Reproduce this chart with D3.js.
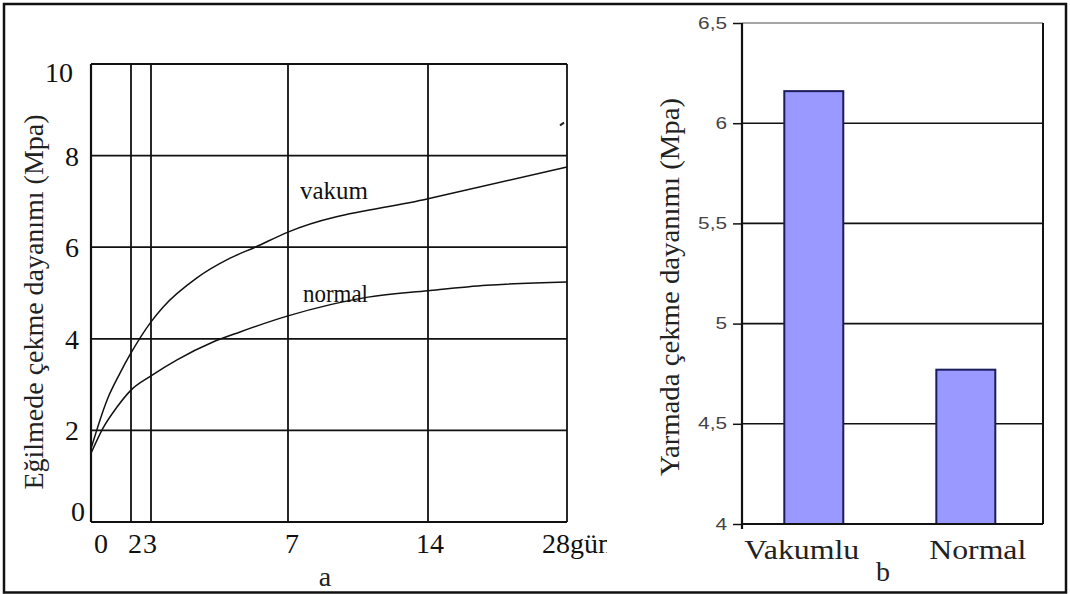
<!DOCTYPE html>
<html>
<head>
<meta charset="utf-8">
<script src="https://cdn.jsdelivr.net/npm/d3@7"></script>
<style>
  body { margin: 0; background: #fff; }
  svg { display: block; }
</style>
</head>
<body>
<div id="chart"></div>
<script>
// panel a: strength vs age (days)
const dayTicks = [0, 2, 3, 7, 14, 28];
const dayTickLabels = ["0", "2", "3", "7", "14", "28gün"];
const leftYTicks = [0, 2, 4, 6, 8, 10];

const vakumDays = [0, 0.8, 1.45, 2, 3, 3.35, 4.34, 5.31, 6.04, 7, 14, 28];
const vakumValues = [1.6, 2.66, 3.25, 3.69, 4.37, 4.69, 5.33, 5.76, 6.0, 6.33, 7.06, 7.75];

const normalDays = [0, 0.6, 1.3, 2, 3, 3.76, 4.81, 5.6, 7, 11, 14, 19.9, 28];
const normalValues = [1.5, 2.05, 2.51, 2.88, 3.19, 3.54, 3.93, 4.15, 4.5, 4.91, 5.05, 5.17, 5.24];

// panel b: split tensile strength
const barCategories = ["Vakumlu", "Normal"];
const barValues = [6.16, 4.77];
const rightYTicks = [4, 4.5, 5, 5.5, 6, 6.5];

const W = 1070, H = 594;
const serif = "'Liberation Serif', 'Times New Roman', serif";
const sans = "'Liberation Sans', Arial, sans-serif";

const svg = d3.select("#chart").append("svg")
    .attr("width", W)
    .attr("height", H);

svg.append("rect").attr("width", W).attr("height", H).attr("fill", "#fff");

// stretch text to a given width (the picture is not evenly scaled)
function fitWidth(sel, len) {
    sel.attr("textLength", len).attr("lengthAdjust", "spacingAndGlyphs");
}

// ---------- left panel ----------
const L = { left: 91, right: 567, top: 64, bottom: 522 };
const pw = L.right - L.left;

svg.append("clipPath").attr("id", "leftClip")
    .append("rect").attr("x", 0).attr("y", 0).attr("width", 607).attr("height", H);

const gl = svg.append("g").attr("clip-path", "url(#leftClip)");

// days are not evenly spaced on the axis, so use a piecewise scale
const x = d3.scaleLinear()
    .domain(dayTicks)
    .range([0, 40, 60, 197, 337, 476].map(d => L.left + d * pw / 476));

const y = d3.scaleLinear().domain([0, 10]).range([L.bottom, L.top]);

// grid
gl.append("g").selectAll("line")
    .data(leftYTicks)
    .join("line")
    .attr("x1", L.left).attr("x2", L.right)
    .attr("y1", d => y(d)).attr("y2", d => y(d))
    .attr("stroke", "#111").attr("stroke-width", d => d === 0 ? 2.2 : 1.8);

gl.append("g").selectAll("line")
    .data(dayTicks)
    .join("line")
    .attr("x1", d => x(d)).attr("x2", d => x(d))
    .attr("y1", L.top).attr("y2", L.bottom)
    .attr("stroke", "#111").attr("stroke-width", d => d === 0 ? 2.2 : 1.8);

// y tick labels
const yAxis = d3.axisLeft(y).tickValues(leftYTicks).tickSize(0).tickPadding(12);
gl.append("g")
    .attr("transform", `translate(${L.left},0)`)
    .call(yAxis)
    .call(g => g.select(".domain").remove())
    .selectAll("text")
    .attr("font-family", serif)
    .attr("font-size", 28)
    .attr("fill", "#111")
    .attr("dx", d => d === 10 ? -6 : d === 0 ? 6 : 0)
    .attr("dy", d => d === 10 ? "0.62em" : d === 0 ? "-0.05em" : "0.34em");

// x tick labels
const xLabelShift = { 0: 10, 2: 4, 3: -1, 7: 4, 14: 2 };
gl.append("g").selectAll("text")
    .data(dayTicks)
    .join("text")
    .attr("x", d => d === 28 ? x(d) - 25 : x(d) + xLabelShift[d])
    .attr("y", 553)
    .attr("text-anchor", d => d === 28 ? "start" : "middle")
    .attr("font-family", serif)
    .attr("font-size", 28)
    .attr("fill", "#111")
    .text((d, i) => dayTickLabels[i]);

// curves
const line = d3.line()
    .x(d => x(d[0]))
    .y(d => y(d[1]))
    .curve(d3.curveMonotoneX);

gl.append("path")
    .datum(vakumDays.map((d, i) => [d, vakumValues[i]]))
    .attr("d", line)
    .attr("fill", "none")
    .attr("stroke", "#111")
    .attr("stroke-width", 1.5);

gl.append("path")
    .datum(normalDays.map((d, i) => [d, normalValues[i]]))
    .attr("d", line)
    .attr("fill", "none")
    .attr("stroke", "#111")
    .attr("stroke-width", 1.5);

// small stray mark top right
gl.append("line")
    .attr("x1", x(28) - 7).attr("y1", y(8.66))
    .attr("x2", x(28) - 3).attr("y2", y(8.72))
    .attr("stroke", "#222").attr("stroke-width", 2);

// curve labels
gl.append("text")
    .attr("x", x(7) + 12).attr("y", y(7.05))
    .attr("font-family", serif).attr("font-size", 25).attr("fill", "#111")
    .text("vakum")
    .call(fitWidth, 68);

gl.append("text")
    .attr("x", x(7) + 15).attr("y", y(4.8))
    .attr("font-family", serif).attr("font-size", 25).attr("fill", "#111")
    .text("normal")
    .call(fitWidth, 65);

// axis title
gl.append("text")
    .attr("transform", "translate(43,302) rotate(-90)")
    .attr("text-anchor", "middle")
    .attr("font-family", serif).attr("font-size", 27).attr("fill", "#222")
    .text("Eğilmede çekme dayanımı (Mpa)")
    .call(fitWidth, 375);

gl.append("text")
    .attr("x", 325).attr("y", 586)
    .attr("text-anchor", "middle")
    .attr("font-family", serif).attr("font-size", 28).attr("fill", "#222")
    .text("a");

// ---------- right panel ----------
const R = { left: 742, right: 1043, top: 23, bottom: 524 };
const gr = svg.append("g");

const xb = d3.scaleBand()
    .domain(barCategories)
    .range([R.left, R.right])
    .paddingInner(0.612)
    .paddingOuter(0.296)
    .align(0.47);

const yb = d3.scaleLinear().domain([4, 6.5]).range([R.bottom, R.top]);

// gridlines
gr.append("g").selectAll("line")
    .data(rightYTicks.filter(d => d > 4 && d < 6.5))
    .join("line")
    .attr("x1", R.left).attr("x2", R.right)
    .attr("y1", d => yb(d)).attr("y2", d => yb(d))
    .attr("stroke", "#111").attr("stroke-width", 1.6);

// top (gray) and right border
gr.append("line")
    .attr("x1", R.left).attr("x2", R.right)
    .attr("y1", yb(6.5)).attr("y2", yb(6.5))
    .attr("stroke", "#888").attr("stroke-width", 1.5);
gr.append("line")
    .attr("x1", R.right).attr("x2", R.right)
    .attr("y1", yb(6.5)).attr("y2", yb(4))
    .attr("stroke", "#111").attr("stroke-width", 2);

// bars
gr.append("g").selectAll("rect")
    .data(barValues)
    .join("rect")
    .attr("x", (d, i) => xb(barCategories[i]))
    .attr("width", xb.bandwidth())
    .attr("y", d => yb(d))
    .attr("height", d => yb(4) - yb(d))
    .attr("fill", "#9999ff")
    .attr("stroke", "#1c1c5a")
    .attr("stroke-width", 2);

// y axis
const ybAxis = d3.axisLeft(yb)
    .tickValues(rightYTicks)
    .tickSize(9)
    .tickPadding(6)
    .tickFormat(d => String(d).replace(".", ","));

gr.append("g")
    .attr("transform", `translate(${R.left},0)`)
    .call(ybAxis)
    .call(g => g.select(".domain")
        .attr("d", `M0,${yb(6.5)}V${yb(4) + 5}`)
        .attr("stroke", "#111").attr("stroke-width", 2.2))
    .call(g => g.selectAll(".tick line").attr("stroke", "#111").attr("stroke-width", 1.5))
    .selectAll("text")
    .attr("font-family", sans)
    .attr("font-size", 16)
    .attr("fill", "#444")
    .each(function () {
        const t = d3.select(this);
        t.call(fitWidth, this.getComputedTextLength() * 1.3);
    });

// bottom axis line
gr.append("line")
    .attr("x1", R.left).attr("x2", R.right)
    .attr("y1", yb(4)).attr("y2", yb(4))
    .attr("stroke", "#111").attr("stroke-width", 2.2);

// category labels
const catShift = [-12, 12];
const catWidth = [115, 97];
gr.append("g").selectAll("text")
    .data(barCategories)
    .join("text")
    .attr("x", (d, i) => xb(d) + xb.bandwidth() / 2 + catShift[i])
    .attr("y", 559)
    .attr("text-anchor", "middle")
    .attr("font-family", serif).attr("font-size", 27).attr("fill", "#222")
    .text(d => d)
    .each(function (d, i) { d3.select(this).call(fitWidth, catWidth[i]); });

gr.append("text")
    .attr("transform", "translate(679,287) rotate(-90)")
    .attr("text-anchor", "middle")
    .attr("font-family", serif).attr("font-size", 27).attr("fill", "#222")
    .text("Yarmada çekme dayanımı (Mpa)")
    .call(fitWidth, 378);

gr.append("text")
    .attr("x", 883).attr("y", 581)
    .attr("text-anchor", "middle")
    .attr("font-family", serif).attr("font-size", 28).attr("fill", "#222")
    .text("b");

// outer frame
svg.append("rect")
    .attr("x", 4).attr("y", 4)
    .attr("width", 1062).attr("height", 588.5)
    .attr("fill", "none")
    .attr("stroke", "#111")
    .attr("stroke-width", 2.5);
</script>
</body>
</html>
